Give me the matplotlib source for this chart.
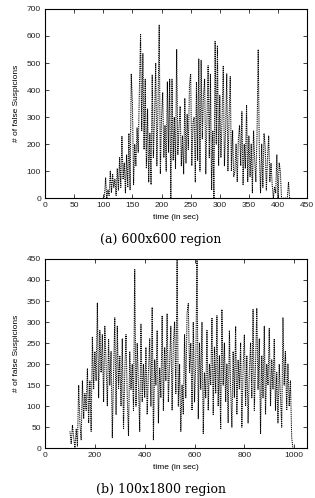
import matplotlib
matplotlib.use("Agg")
import matplotlib.pyplot as plt
import numpy as np

plt.rcParams["font.family"] = ["Liberation Sans", "DejaVu Sans"]

# (a) 600x600 region, one value every 2 sec from t=100 to t=420
t_a = np.arange(100, 422, 2)
fs_a = [0, 5, 75, 0, 30, 10, 100, 20, 90, 40,
        70, 10, 110, 30, 150, 40, 230, 70, 130, 20,
        160, 40, 240, 30, 460, 350, 50, 200, 120, 260,
        170, 400, 605, 250, 535, 180, 440, 110, 330, 60,
        240, 50, 455, 150, 300, 500, 120, 350, 640, 90,
        300, 390, 150, 270, 100, 430, 170, 440, 0, 440,
        140, 300, 110, 550, 160, 260, 340, 120, 230, 90,
        370, 130, 310, 180, 420, 460, 120, 280, 300, 60,
        430, 140, 515, 100, 510, 220, 380, 440, 90, 300,
        490, 150, 460, 30, 250, 0, 580, 200, 565, 120,
        380, 150, 300, 490, 120, 250, 460, 100, 300, 450,
        100, 250, 80, 100, 200, 60, 220, 270, 120, 320,
        50, 200, 110, 345, 60, 230, 80, 200, 20, 250,
        140, 60, 240, 550, 160, 20, 200, 40, 240, 190,
        30, 150, 230, 60, 130, 50, 0, 40, 20, 160,
        0, 130, 100, 0, 0, 0, 0, 0, 0, 60,
        0]

# (b) 100x1800 region, one value every 5 sec from t=100 to t=995
t_b = np.arange(100, 1000, 5)
fs_b = [40, 10, 55, 25, 0, 45, 5, 150, 60, 20,
        160, 70, 130, 90, 190, 60, 160, 40, 265, 140,
        230, 160, 345, 120, 280, 180, 270, 110, 290, 200,
        100, 260, 150, 230, 25, 180, 310, 80, 290, 140,
        220, 100, 260, 45, 180, 270, 120, 30, 230, 140,
        200, 90, 425, 100, 250, 150, 40, 295, 110, 200,
        120, 240, 80, 180, 260, 100, 335, 20, 210, 150,
        280, 60, 190, 120, 315, 90, 240, 160, 320, 110,
        200, 290, 90, 250, 300, 130, 447, 100, 200, 40,
        150, 80, 270, 120, 320, 344, 180, 250, 90, 300,
        110, 200, 450, 70, 250, 140, 300, 35, 180, 120,
        280, 90, 200, 150, 310, 80, 240, 130, 315, 100,
        220, 45, 330, 150, 250, 110, 200, 60, 280, 140,
        50, 230, 120, 290, 80, 210, 140, 250, 50, 190,
        270, 100, 220, 60, 180, 250, 120, 330, 90, 200,
        333, 140, 260, 35, 220, 120, 290, 80, 200, 150,
        285, 100, 210, 140, 260, 90, 180, 60, 200, 120,
        50, 310, 150, 230, 90, 200, 100, 160, 25, 0]

fig = plt.figure(figsize=(3.15, 4.98), dpi=100)
ax1 = fig.add_axes([0.143, 0.602, 0.832, 0.380])
ax2 = fig.add_axes([0.143, 0.100, 0.832, 0.380])

def style(ax, xmax, ymax, xstep, ystep):
    ax.set_xlim(0, xmax)
    ax.set_ylim(0, ymax)
    ax.set_xticks(np.arange(0, xmax + 1, xstep))
    ax.set_yticks(np.arange(0, ymax + 1, ystep))
    ax.tick_params(direction="in", top=True, right=True, length=3,
                   width=0.6, labelsize=6, pad=3, colors="#222222")
    for s in ax.spines.values():
        s.set_linewidth(0.8)
    ax.set_xlabel("time (in sec)", fontsize=6, labelpad=3)
    ax.set_ylabel("# of false Suspicions", fontsize=6, labelpad=5)

ax1.plot(t_a, fs_a, color="black", lw=0.75, ls=(0, (1, 0.8)))
style(ax1, 450, 700, 50, 100)
ax2.plot(t_b, fs_b, color="black", lw=0.75, ls=(0, (1, 0.8)))
style(ax2, 1052, 450, 200, 50)
ax2.set_xticks(np.arange(0, 1001, 200))

fig.text(0.51, 1 - 239 / 498, "(a) 600x600 region", ha="center", va="center",
         fontsize=9, family="DejaVu Serif")
fig.text(0.51, 1 - 489 / 498, "(b) 100x1800 region", ha="center", va="center",
         fontsize=9, family="DejaVu Serif")

fig.savefig("out.png", dpi=100)
